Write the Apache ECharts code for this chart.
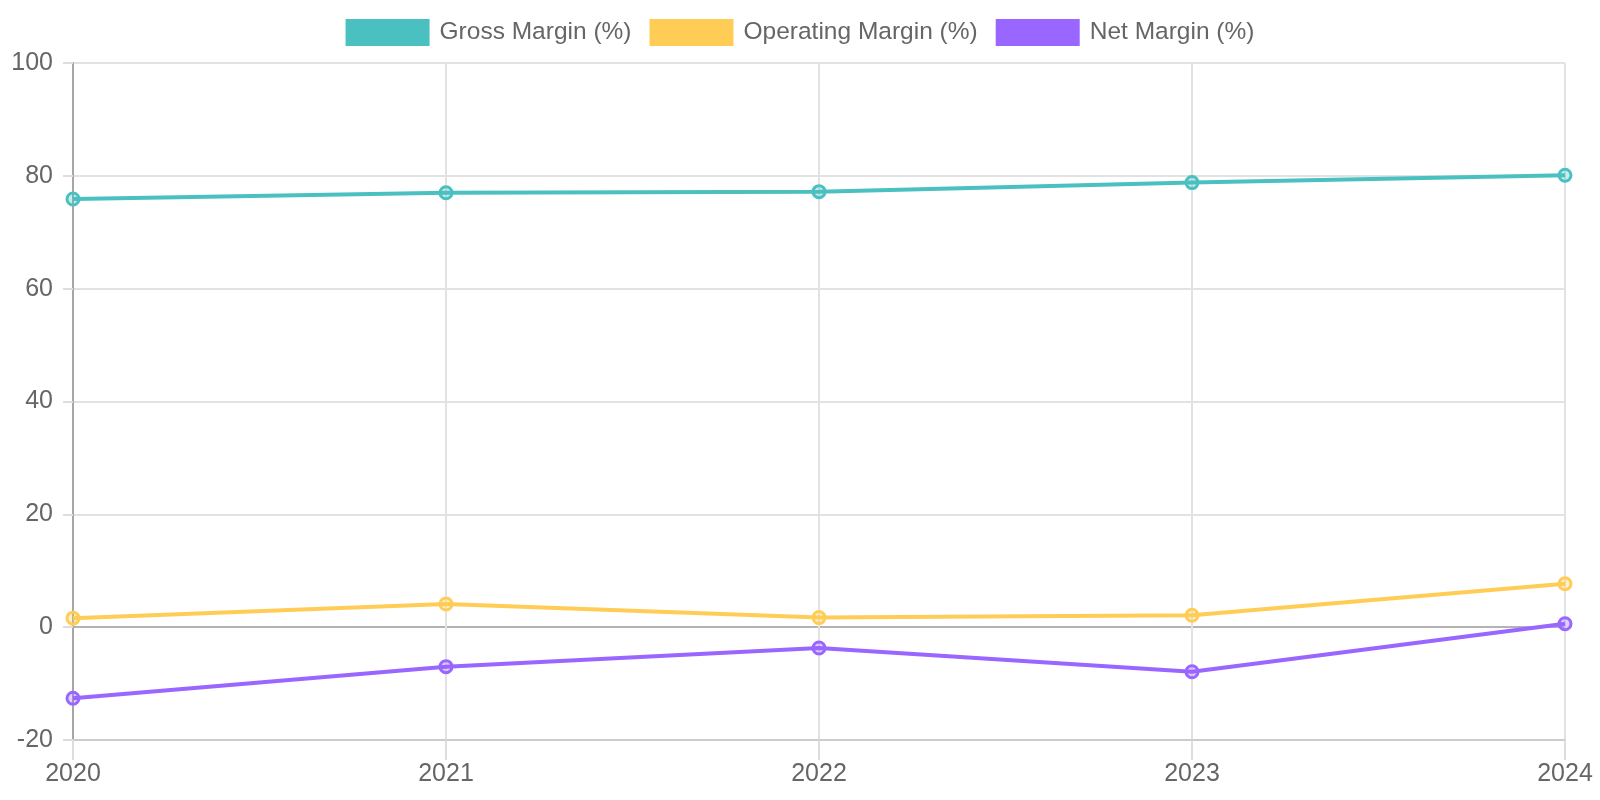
<!DOCTYPE html>
<html><head><meta charset="utf-8">
<script src="https://cdn.jsdelivr.net/npm/echarts@6/dist/echarts.min.js"></script>
<style>html,body{margin:0;padding:0;background:#fff}#c{width:1600px;height:800px}</style>
</head><body><div id="c"></div>
<script>
var years = ['2020','2021','2022','2023','2024'];
var grossMargin = [75.9, 77.0, 77.2, 78.8, 80.1];
var operatingMargin = [1.6, 4.1, 1.7, 2.1, 7.7];
var netMargin = [-12.6, -7.0, -3.7, -7.9, 0.6];
var seriesNames = ['Gross Margin (%)', 'Operating Margin (%)', 'Net Margin (%)'];
var colors = ['#4BC0C0', '#FFCD56', '#9966FF'];
var fills = ['rgba(75,192,192,0.3)', 'rgba(255,205,86,0.3)', 'rgba(153,102,255,0.3)'];

function mk(i, data) {
  return {
    name: seriesNames[i], type: 'line', data: data,
    symbol: 'circle', symbolSize: 12,
    lineStyle: {width: 4, color: colors[i]},
    itemStyle: {color: fills[i], borderColor: colors[i], borderWidth: 3},
    emphasis: {disabled: true}
  };
}
var chart = echarts.init(document.getElementById('c'));
chart.setOption({
  animation: false,
  textStyle: {fontFamily: 'Liberation Sans, Arial, sans-serif'},
  legend: {
    top: 14, left: 'center', itemWidth: 84, itemHeight: 27, itemGap: 18,
    icon: 'rect',
    textStyle: {fontSize: 24.5, color: '#666', padding: [0, 0, 0, 5]},
    data: seriesNames.map(function(n, i){ return {name: n, itemStyle: {color: colors[i], borderWidth: 0}}; })
  },
  grid: {left: 73, right: 35, top: 63, bottom: 60},
  xAxis: {
    type: 'category', data: years, boundaryGap: false,
    axisLine: {show: true, onZero: false, lineStyle: {color: '#cccccc', width: 2}},
    axisTick: {show: true, length: 20, lineStyle: {color: '#dddddd', width: 2}},
    axisLabel: {fontSize: 25, color: '#666', margin: 22},
    splitLine: {show: true, lineStyle: {color: '#e2e2e2', width: 2}}
  },
  yAxis: {
    type: 'value', min: -20, max: 100, interval: 20,
    axisLine: {show: true, onZero: false, lineStyle: {color: '#a6a6a6', width: 2}},
    axisTick: {show: true, length: 10, lineStyle: {color: '#dddddd', width: 2}},
    axisLabel: {fontSize: 25, color: '#666', margin: 20},
    splitLine: {show: true, lineStyle: {color: ['#cccccc', '#b3b3b3', '#e2e2e2', '#e2e2e2', '#e2e2e2', '#e2e2e2', '#e2e2e2'], width: 2}}
  },
  series: [mk(0, grossMargin), mk(1, operatingMargin), mk(2, netMargin)]
});
</script></body></html>
